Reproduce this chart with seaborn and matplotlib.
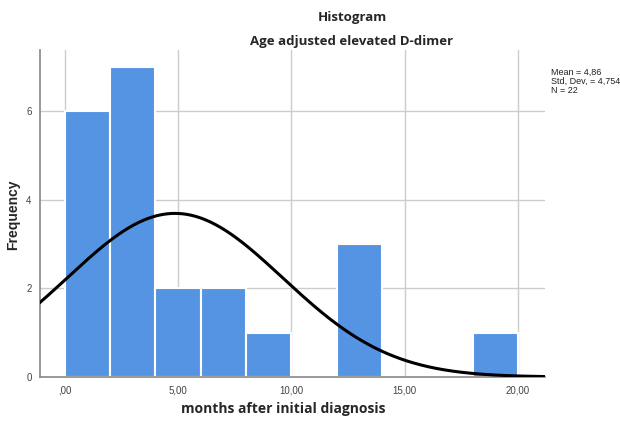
import numpy as np
import pandas as pd
import matplotlib
matplotlib.use("Agg")
import matplotlib.pyplot as plt
import seaborn as sns

# Data (bin width 2 months)
bin_left = [0, 2, 4, 6, 8, 10, 12, 14, 16, 18]
counts = [6, 7, 2, 2, 1, 0, 3, 0, 0, 1]
mean_val = 4.86
sd_val = 4.754
n_val = 22
x_ticks = [0, 5, 10, 15, 20]
x_tick_labels = [",00", "5,00", "10,00", "15,00", "20,00"]
y_ticks = [0, 2, 4, 6]

sns.set_style("white")
plt.rcParams["font.family"] = ["Liberation Sans", "DejaVu Sans"]

fig = plt.figure(figsize=(6.2, 4.22), dpi=100)
ax = fig.add_axes([40/620, 1 - 377/422, 505/620, 327/422])

df = pd.DataFrame({"center": np.array(bin_left) + 1, "count": counts})
bin_edges = list(bin_left) + [bin_left[-1] + 2]
sns.histplot(data=df, x="center", weights="count", bins=bin_edges, ax=ax,
             color="#5594E2", alpha=1, edgecolor="white", linewidth=1.5, zorder=2)

xs = np.linspace(-1.2, 21.3, 400)
ys = n_val * 2 / (sd_val * np.sqrt(2 * np.pi)) * np.exp(-0.5 * ((xs - mean_val) / sd_val) ** 2)
sns.lineplot(x=xs, y=ys, ax=ax, color="black", linewidth=2.2, zorder=3)

ax.set_xlim(-1.1, 21.2)
ax.set_ylim(0, 7.38)
ax.set_xticks(x_ticks)
ax.set_xticklabels(x_tick_labels)
ax.set_yticks(y_ticks)
ax.tick_params(axis="both", labelsize=7, colors="#444444", length=0, pad=6)
ax.grid(True, color="#cccccc", linewidth=1, zorder=0)
ax.set_axisbelow(True)
for s in ["top", "right"]:
    ax.spines[s].set_visible(False)
for s in ["left", "bottom"]:
    ax.spines[s].set_color("#888888")
    ax.spines[s].set_linewidth(1.2)

ax.set_xlabel("")
ax.set_ylabel("")
fig.text(283/620, 1 - 409/422, "months after initial diagnosis", ha="center", va="center",
         fontsize=10, fontweight="bold", family=["Open Sans", "DejaVu Sans"])
fig.text(13/620, 1 - 215/422, "Frequency", ha="center", va="center", rotation=90,
         fontsize=10, fontweight="bold")

fig.text(352/620, 1 - 17/422, "Histogram", ha="center", va="center",
         fontsize=9.5, fontweight="bold", family=["Open Sans", "DejaVu Sans"])
fig.text(352/620, 1 - 42/422, "Age adjusted elevated D-dimer", ha="center", va="center",
         fontsize=9.5, fontweight="bold", family=["Open Sans", "DejaVu Sans"])

fig.text(551/620, 1 - 68/422,
         f"Mean = {mean_val:.2f}".replace(".", ",") + "\n" +
         f"Std. Dev. = {sd_val:.3f}".replace(".", ",") + "\n" +
         f"N = {n_val}",
         ha="left", va="top", fontsize=6.5, linespacing=1.0, color="#222222")

fig.savefig("out.png", dpi=100)
